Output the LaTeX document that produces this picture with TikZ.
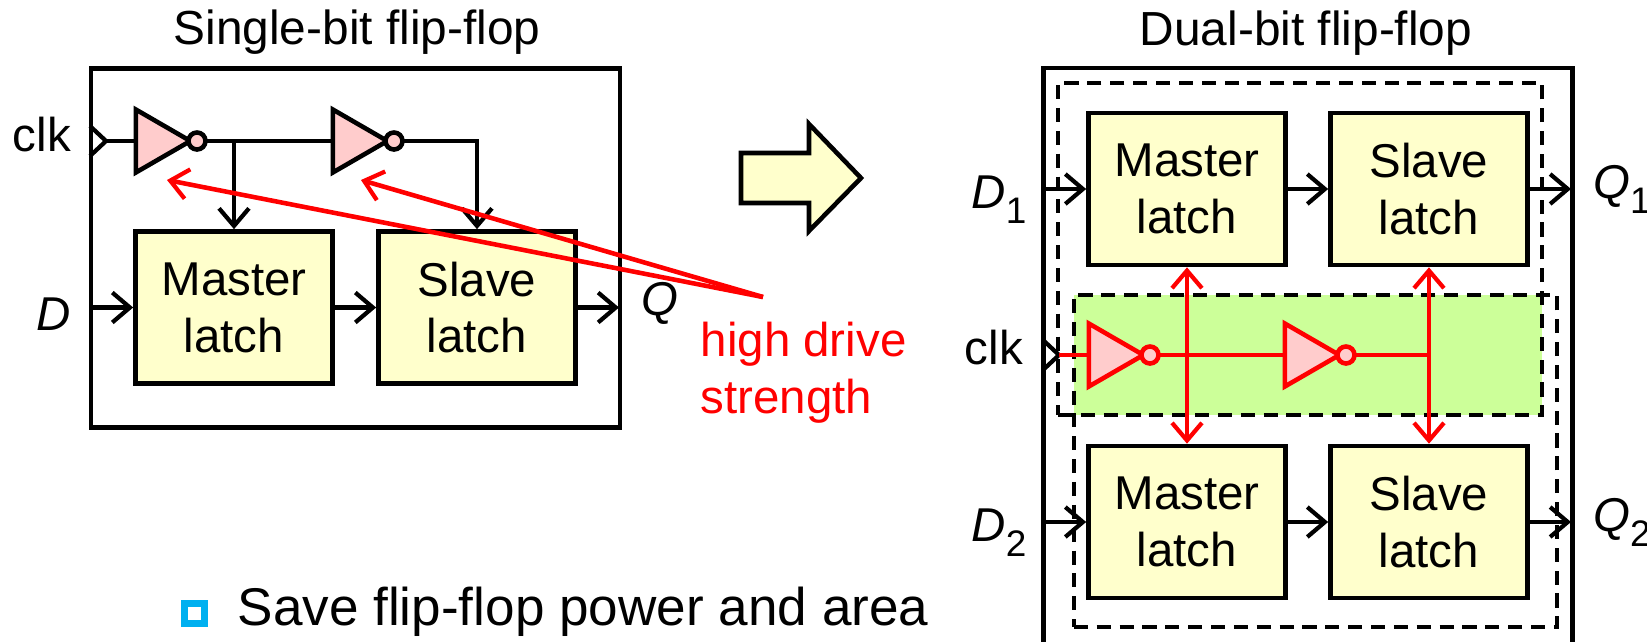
\documentclass[tikz,border=0pt]{standalone}
\usepackage{fontspec}
\setmainfont{Liberation Sans}
\usetikzlibrary{arrows.meta,shapes.geometric}

\definecolor{latchfill}{HTML}{FFFFCC}
\definecolor{invfill}{HTML}{FFCCCC}
\definecolor{clkfill}{HTML}{CCFF99}
\definecolor{bulletblue}{HTML}{00B0F0}
\newcommand{\subnum}[1]{\raisebox{-0.6ex}{\fontsize{10.5}{10.5}\selectfont #1}}

\begin{document}
\begin{tikzpicture}[x=0.01cm,y=-0.01cm]

\tikzset{
  >={Straight Barb[length=5pt,width=8.5pt,line width=1.2pt]},
  wire/.style = {line width=1.2pt},
  redwire/.style = {line width=1.3pt, red},
  frame/.style = {draw, line width=1.3pt, inner sep=0pt},
  dashbox/.style = {draw, line width=1.15pt, dash pattern=on 4pt off 2.5pt, inner sep=0pt},
  latch/.style = {draw, line width=1.3pt, fill=latchfill, align=center,
                  minimum width=1.97cm, minimum height=1.52cm, inner sep=0pt,
                  execute at begin node={\rule{0pt}{12.4pt}},
                  font=\fontsize{13.5}{16.2}\selectfont},
  inv/.style = {draw, line width=1.3pt, fill=invfill, regular polygon, regular polygon sides=3,
                shape border rotate=-90, minimum size=0.727cm, inner sep=0pt, outer sep=0pt},
  bubble/.style = {draw, line width=1.3pt, fill=invfill, circle, minimum size=0.17cm,
                   inner sep=0pt, outer sep=0pt},
  txt/.style = {inner sep=0pt, font=\fontsize{13.5}{16.2}\selectfont}
}

  \useasboundingbox (0,0) rectangle (1647,641);
  \clip (0,0) rectangle (1647,641);

  % single-bit flip-flop
  \node[txt, font=\fontsize{13.6}{16.2}\selectfont] (title1) at (357,32) {Single-bit flip-flop};
  \node[frame, minimum width=5.29cm, minimum height=3.59cm] (box1) at (355.5,248) {};

  \node[inv] (i1) at (154,141) {};
  \node[bubble] (b1) at (197,141) {};
  \node[inv] (i2) at (351,141) {};
  \node[bubble] (b2) at (394,141) {};

  \node[latch] (m0) at (234,307.5) {Master\\latch};
  \node[latch] (s0) at (477,307.5) {Slave\\latch};

  \node[txt] (clk0) at (42,135) {clk};
  \node[txt] (d0) at (54,314) {\textit{D}};
  \node[txt] (q0) at (660,303) {\textit{Q}};

  \coordinate (c0) at (106,141);
  \coordinate (d0in) at (90,307.5);
  \coordinate (q0out) at (619,307.5);

  \draw[wire] (90,126) -- (c0) -- (90,156);
  \draw[wire] (c0) -- (i1.west);
  \draw[wire] (b1.east) -- (i2.west);
  \draw[wire,->] (b2.east) -| (s0.north);
  \draw[wire,->] (b1.east -| m0.north) -- (m0.north);
  \draw[wire,->] (d0in) -- (m0.west);
  \draw[wire,->] (m0.east) -- (s0.west);
  \draw[wire,->] (s0.east) -- (q0out);

  % dual-bit flip-flop
  \node[txt, font=\fontsize{13.6}{16.2}\selectfont] (title2) at (1306,33) {Dual-bit flip-flop};
  \node[frame, minimum width=5.29cm, minimum height=5.92cm] (box2) at (1308,364) {};

  \node[fill=clkfill, minimum width=4.68cm, minimum height=1.20cm, inner sep=0pt] (clkarea) at (1308,355) {};
  \node[dashbox, minimum width=4.84cm, minimum height=3.32cm] (bit1) at (1300,249) {};
  \node[dashbox, minimum width=4.83cm, minimum height=3.32cm] (bit2) at (1315.5,461) {};

  \node[latch] (m1) at (1187,189) {Master\\latch};
  \node[latch] (s1) at (1429,189) {Slave\\latch};
  \node[latch] (m2) at (1187,522) {Master\\latch};
  \node[latch] (s2) at (1429,522) {Slave\\latch};

  \node[inv, draw=red] (i3) at (1107,355) {};
  \node[bubble, draw=red] (b3) at (1150,355) {};
  \node[inv, draw=red] (i4) at (1303,355) {};
  \node[bubble, draw=red] (b4) at (1346,355) {};

  \node[txt] (clk1) at (994,348) {clk};
  \node[txt] (d1) at (999,200) {\textit{D}\subnum{1}};
  \node[txt] (d2) at (999,533) {\textit{D}\subnum{2}};
  \node[txt] (q1) at (1622,189) {\textit{Q}\subnum{1}};
  \node[txt] (q2) at (1622,522) {\textit{Q}\subnum{2}};

  \coordinate (c1) at (1059,355);
  \coordinate (d1in) at (1043,189);
  \coordinate (d2in) at (1043,522);
  \coordinate (q1out) at (1571,189);
  \coordinate (q2out) at (1571,522);

  \draw[wire] (1043,340) -- (c1) -- (1043,370);
  \draw[wire,->] (d1in) -- (m1.west);
  \draw[wire,->] (m1.east) -- (s1.west);
  \draw[wire,->] (s1.east) -- (q1out);
  \draw[wire,->] (d2in) -- (m2.west);
  \draw[wire,->] (m2.east) -- (s2.west);
  \draw[wire,->] (s2.east) -- (q2out);

  \draw[redwire] (c1) -- (i3.west);
  \draw[redwire] (b3.east) -- (i4.west);
  \draw[redwire] (b4.east) -- (b4.east -| s1.south);
  \draw[redwire,<->] (m1.south) -- (m2.north);
  \draw[redwire,<->] (s1.south) -- (s2.north);

  % big arrow between the two
  \draw[line width=1.3pt, fill=latchfill] (741,153) -- (809,153) -- (809,124) -- (861,178)
    -- (809,231) -- (809,203) -- (741,203) -- cycle;

  % note on the inverters
  \node[txt, red, align=left, anchor=north west] (note) at (700,321) {high drive\\strength};
  \coordinate (noteTip) at (763,297);
  \coordinate (inv1low) at (167,180);
  \coordinate (inv2low) at (361,180);
  \draw[redwire,->] (noteTip) -- (inv1low);
  \draw[redwire,->] (noteTip) -- (inv2low);

  % bullet
  \node[draw=bulletblue, line width=2pt, minimum size=0.20cm, inner sep=0pt] (bullet) at (194.5,613.5) {};
  \node[inner sep=0pt, anchor=west, font=\fontsize{15.1}{18}\selectfont] (save) at (237,612) {Save flip-flop power and area};

\end{tikzpicture}
\end{document}
